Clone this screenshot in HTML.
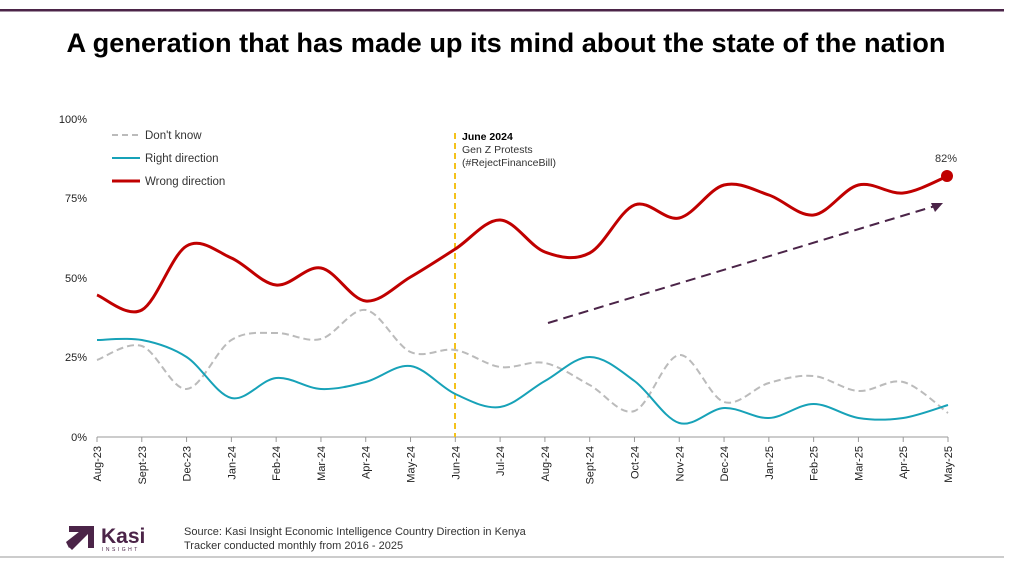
<!DOCTYPE html>
<html><head><meta charset="utf-8"><style>
body{margin:0;width:1017px;height:567px;background:#fff;overflow:hidden;font-family:"Liberation Sans",sans-serif;}
</style></head><body>
<svg id="s" width="1017" height="567" xmlns="http://www.w3.org/2000/svg" font-family="Liberation Sans, sans-serif">
<rect x="0" y="9" width="1004" height="2.5" fill="#4b2448"/>
<text x="506" y="52" text-anchor="middle" font-size="27" font-weight="bold" fill="#000" textLength="879" lengthAdjust="spacingAndGlyphs">A generation that has made up its mind about the state of the nation</text>
<line x1="0" y1="557" x2="1004" y2="557" stroke="#999" stroke-width="1"/>
<g font-size="11" fill="#222" text-anchor="end">
<text x="87" y="123">100%</text><text x="87" y="202">75%</text><text x="87" y="282">50%</text><text x="87" y="361">25%</text><text x="87" y="441">0%</text>
</g>
<line x1="97" y1="437" x2="948" y2="437" stroke="#999"/>
<g id="xt" font-size="11" fill="#222"></g>
<line x1="455" y1="133" x2="455" y2="437" stroke="#f4c21c" stroke-width="2" stroke-dasharray="6,4"/>
<text x="462" y="140" font-size="10.5" font-weight="bold">June 2024</text>
<text x="462" y="153" font-size="10.5" fill="#333">Gen Z Protests</text>
<text x="462" y="166" font-size="10.5" fill="#333">(#RejectFinanceBill)</text>
<line x1="548" y1="323" x2="935" y2="206" stroke="#4b2448" stroke-width="2" stroke-dasharray="10,6"/>
<polygon points="943,203 931,203 935,212" fill="#4b2448"/>
<g id="lines"></g>
<circle cx="947" cy="176" r="6" fill="#c00000"/>
<text x="946" y="162" font-size="11" text-anchor="middle" fill="#333">82%</text>
<line x1="112" y1="135" x2="140" y2="135" stroke="#bbb" stroke-width="2" stroke-dasharray="6,4"/>
<text x="145" y="139" font-size="11.5" fill="#333">Don't know</text>
<line x1="112" y1="158" x2="140" y2="158" stroke="#17a2b8" stroke-width="2"/>
<text x="145" y="162" font-size="11.5" fill="#333">Right direction</text>
<line x1="112" y1="181" x2="140" y2="181" stroke="#c00000" stroke-width="3"/>
<text x="145" y="185" font-size="11.5" fill="#333">Wrong direction</text>
<g fill="#4b2448">
<polygon points="69,526 94,526 94,548 88,548 88,534 72,550 68,546 82,532 69,532"/>
<polygon points="66,542 84,528 86,531 69,548"/>
</g>
<text x="101" y="543" font-size="21" font-weight="bold" fill="#4b2448">Kasi</text>
<text x="102" y="551" font-size="5" letter-spacing="2.5" fill="#4b2448">INSIGHT</text>
<text x="184" y="535" font-size="11" fill="#333">Source: Kasi Insight Economic Intelligence  Country Direction in  Kenya</text>
<text x="184" y="549" font-size="11" fill="#333">Tracker conducted monthly from 2016 - 2025</text>
</svg>
<script>
var labels=["Aug-23","Sept-23","Dec-23","Jan-24","Feb-24","Mar-24","Apr-24","May-24","Jun-24","Jul-24","Aug-24","Sept-24","Oct-24","Nov-24","Dec-24","Jan-25","Feb-25","Mar-25","Apr-25","May-25"];
var x0=97,dx=(948-97)/19;
var g=document.getElementById('xt'),h='';
labels.forEach(function(l,i){var x=x0+i*dx;h+='<line x1="'+x+'" y1="437" x2="'+x+'" y2="442" stroke="#999"/><text transform="translate('+(x+4)+',446) rotate(-90)" text-anchor="end">'+l+'</text>';});
g.innerHTML=h;
var W=[295,310,246,258,285,268,301,277,249,220,252,253,205,218,185,195,215,185,193,176];
var R=[340,340,357,398,378,389,382,366,394,407,381,357,381,423,408,418,404,418,418,405];
var D=[360,346,389,340,333,339,310,352,350,367,363,385,411,355,402,383,376,391,382,413];
function path(ys){var p=ys.map(function(y,i){return[x0+i*dx,y]});var d='M'+p[0][0]+','+p[0][1];
for(var i=0;i<p.length-1;i++){var a=p[i-1]||p[i],b=p[i],c=p[i+1],e=p[i+2]||c;
d+=' C'+(b[0]+(c[0]-a[0])/6)+','+(b[1]+(c[1]-a[1])/6)+' '+(c[0]-(e[0]-b[0])/6)+','+(c[1]-(e[1]-b[1])/6)+' '+c[0]+','+c[1];}return d;}
document.getElementById('lines').innerHTML=
'<path d="'+path(D)+'" fill="none" stroke="#bbb" stroke-width="2" stroke-dasharray="7,4"/>'+
'<path d="'+path(R)+'" fill="none" stroke="#17a2b8" stroke-width="2"/>'+
'<path d="'+path(W)+'" fill="none" stroke="#c00000" stroke-width="3"/>';
</script>
</body></html>
